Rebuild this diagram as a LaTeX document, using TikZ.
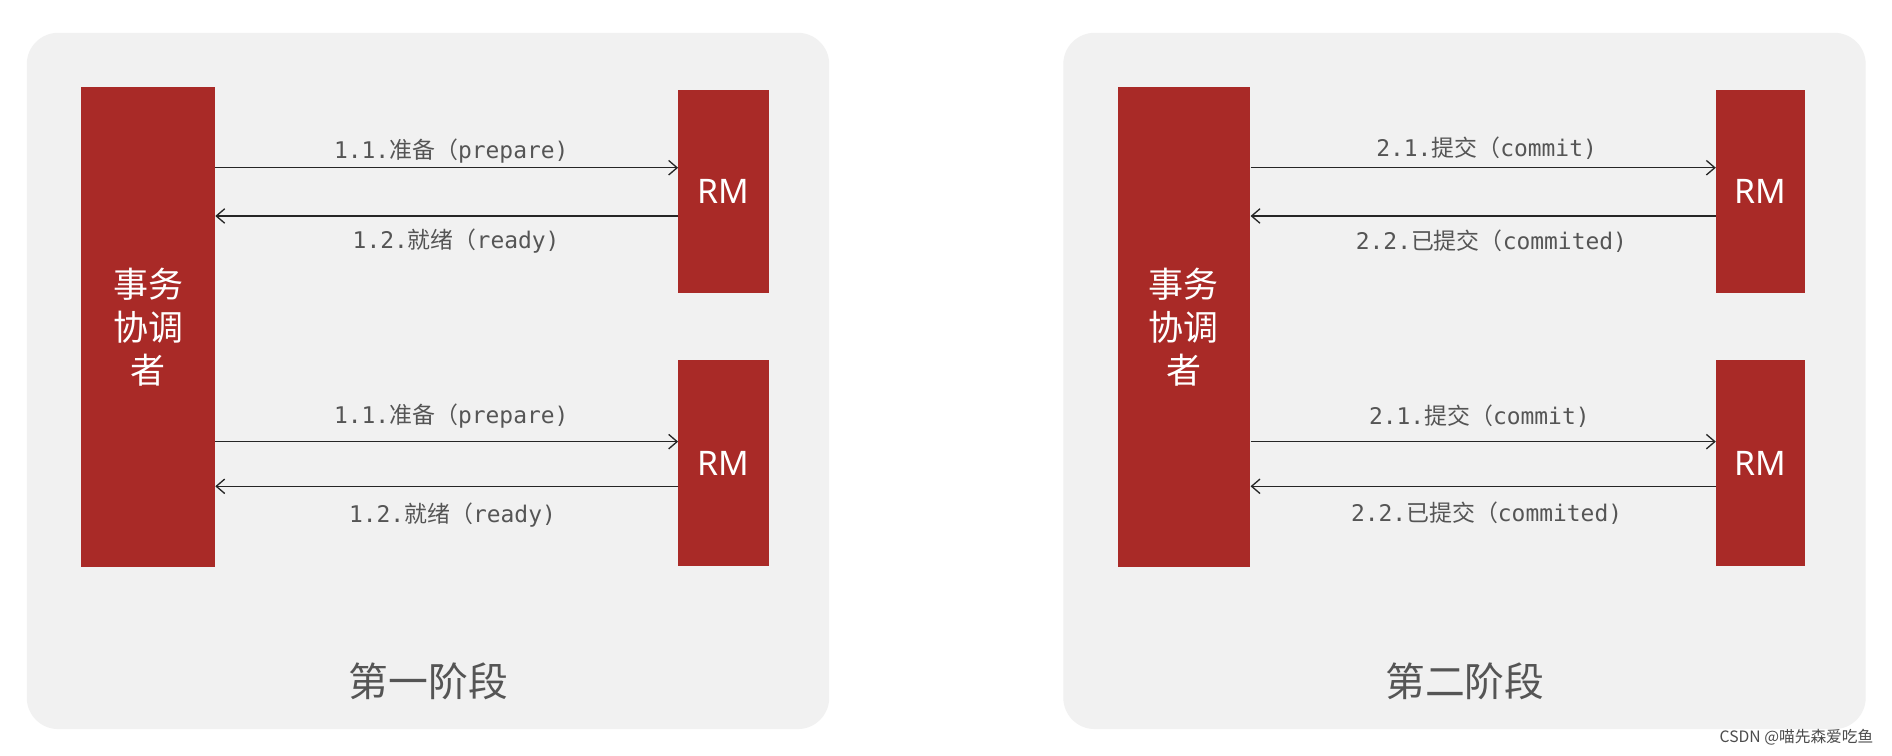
\documentclass[tikz,border=0pt]{standalone}
\usepackage{fontspec}
\setmainfont{Noto Sans}
\setmonofont{DejaVu Sans Mono}
\newfontfamily\cjk{Noto Sans CJK SC}
\begin{document}
\begin{tikzpicture}[x=1pt,y=-1pt,
  panel/.style={fill=panelgray,rounded corners=26pt,draw=none},
  box/.style={fill=boxred,draw=none},
  arr/.style={draw=black!85,line width=1.1pt,-{Straight Barb[length=7pt,width=12pt]}},
  lbl/.style={text=txtgray,font=\fontsize{19}{21}\selectfont\ttfamily,inner sep=1pt},
  ttl/.style={text=txtgray,font=\fontsize{33}{36}\selectfont\cjk},
  wt/.style={text=white,font=\fontsize{29}{36}\selectfont\cjk,align=center}]
\definecolor{panelgray}{HTML}{F1F1F1}
\definecolor{boxred}{HTML}{A92A27}
\definecolor{txtgray}{HTML}{555555}
\usetikzlibrary{arrows.meta}
\useasboundingbox (0,0) rectangle (1568,626.5);
\fill[white] (0,0) rectangle (1568,626.5);
% left panel
\node[panel,minimum width=665pt,minimum height=577pt,anchor=north west] (P1) at (22,27) {};
\node[box,minimum width=111pt,minimum height=398pt,anchor=north west] (C1) at (67,72) {};
\node[wt] at (C1) {事务\\协调\\者};
\node[box,minimum width=75pt,minimum height=169pt,anchor=north west] (R1) at (562,74) {};
\node[box,minimum width=75pt,minimum height=171pt,anchor=north west] (R2) at (562,298) {};
\node[text=white,font=\fontsize{28}{30}\selectfont] at (R1) {RM};
\node[text=white,font=\fontsize{28}{30}\selectfont] at (R2) {RM};
\draw[arr] (C1.east|-0,139) -- (R1.west|-0,139);
\draw[arr] (R1.west|-0,179) -- (C1.east|-0,179);
\draw[arr] (C1.east|-0,366) -- (R2.west|-0,366);
\draw[arr] (R2.west|-0,403) -- (C1.east|-0,403);
\node[lbl] (a1) at (374,125) {1.1.{\cjk 准备（}prepare)};
\node[lbl] (a2) at (378,200) {1.2.{\cjk 就绪（}ready)};
\node[lbl] (a3) at (374,345) {1.1.{\cjk 准备（}prepare)};
\node[lbl] (a4) at (375,427) {1.2.{\cjk 就绪（}ready)};
\node[ttl] (t1) at (355,565) {第一阶段};
% right panel
\node[panel,minimum width=665pt,minimum height=577pt,anchor=north west] (P2) at (881,27) {};
\node[box,minimum width=110pt,minimum height=398pt,anchor=north west] (C2) at (926,72) {};
\node[wt] at (C2) {事务\\协调\\者};
\node[box,minimum width=74pt,minimum height=169pt,anchor=north west] (R3) at (1422,74) {};
\node[box,minimum width=74pt,minimum height=171pt,anchor=north west] (R4) at (1422,298) {};
\node[text=white,font=\fontsize{28}{30}\selectfont] at (R3) {RM};
\node[text=white,font=\fontsize{28}{30}\selectfont] at (R4) {RM};
\draw[arr] (C2.east|-0,139) -- (R3.west|-0,139);
\draw[arr] (R3.west|-0,179) -- (C2.east|-0,179);
\draw[arr] (C2.east|-0,366) -- (R4.west|-0,366);
\draw[arr] (R4.west|-0,403) -- (C2.east|-0,403);
\node[lbl] (b1) at (1232,123) {2.1.{\cjk 提交（}commit)};
\node[lbl] (b2) at (1236,200) {2.2.{\cjk 已提交（}commited)};
\node[lbl] (b3) at (1226,345) {2.1.{\cjk 提交（}commit)};
\node[lbl] (b4) at (1232,425) {2.2.{\cjk 已提交（}commited)};
\node[ttl] (t2) at (1214,565) {第二阶段};
\node[text=black!70,font=\fontsize{13}{15}\selectfont\cjk,anchor=east] (wm) at (1556,611) {CSDN @喵先森爱吃鱼};
\end{tikzpicture}
\end{document}
